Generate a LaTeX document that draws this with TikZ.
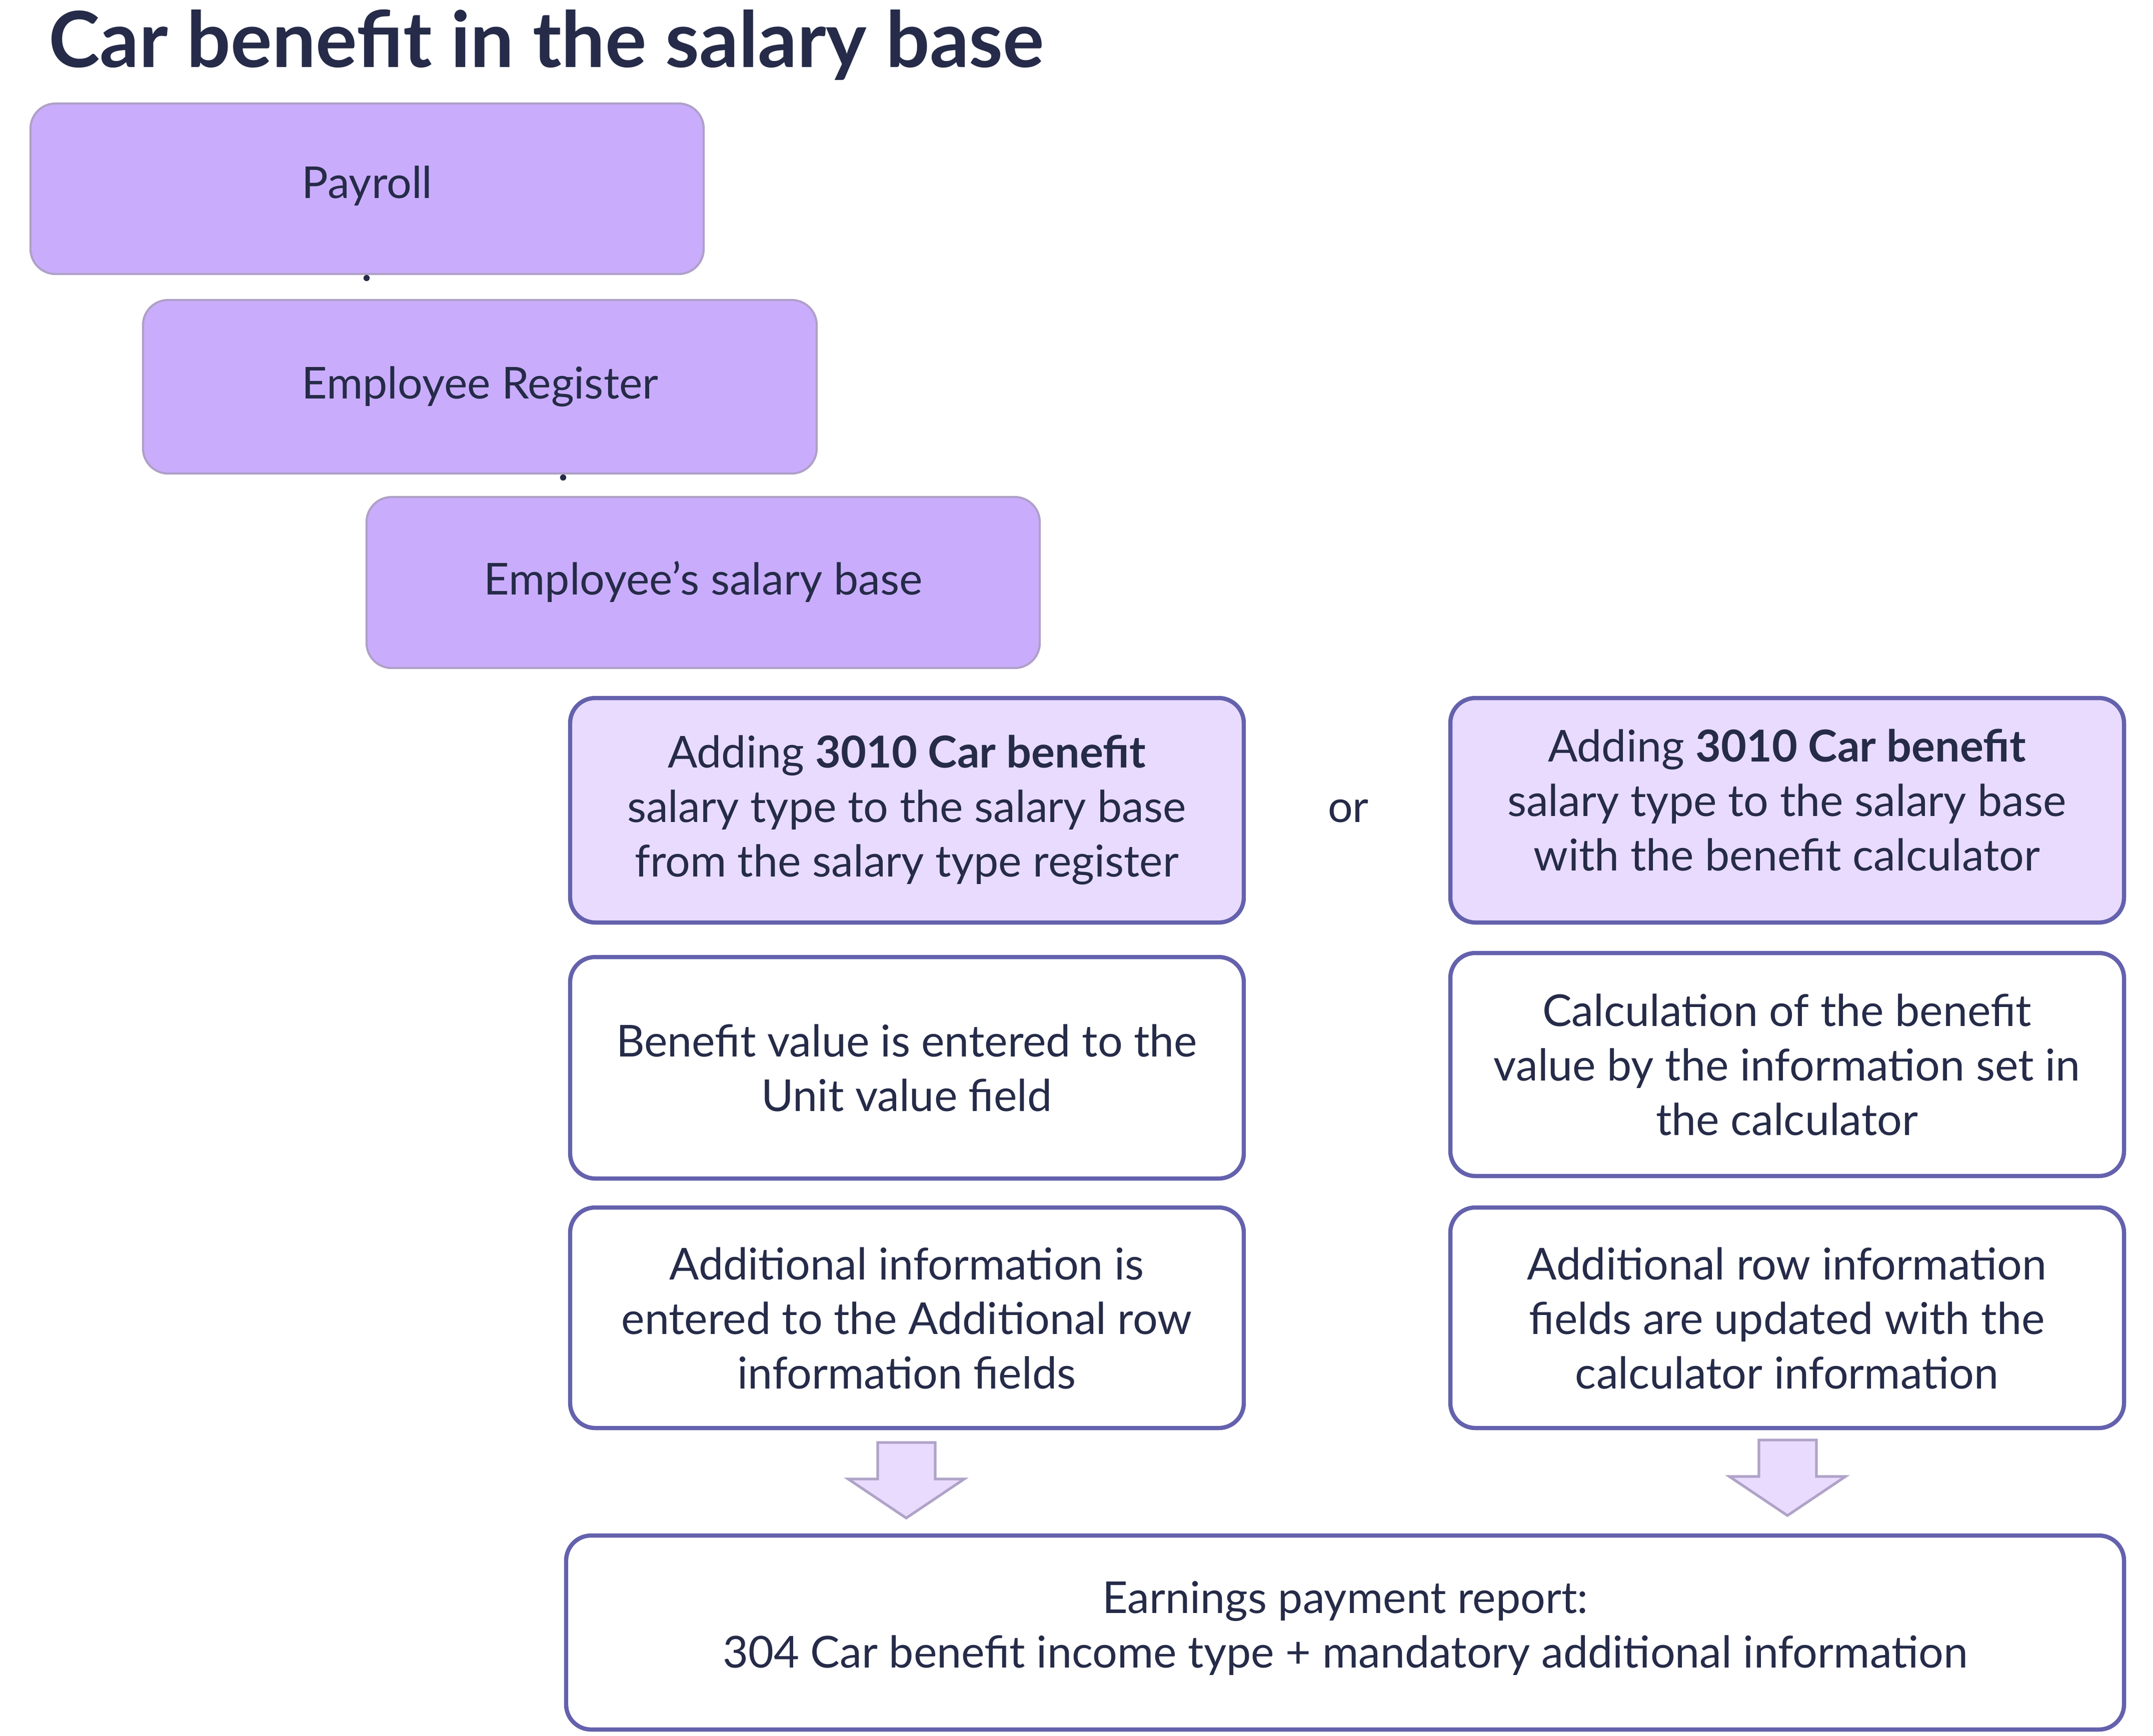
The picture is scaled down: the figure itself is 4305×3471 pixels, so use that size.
\documentclass[tikz,border=0pt]{standalone}
\usepackage{fontspec}
\setmainfont{Lato}
\begin{document}
\begin{tikzpicture}[x=0.01cm,y=-0.01cm,
  every node/.style={text=ink, font=\fontsize{25}{31}\selectfont, align=center},
  darkbox/.style={draw=dborder, line width=1.2pt, fill=dfill, rounded corners=0.5cm},
  lightbox/.style={draw=pborder, line width=2.4pt, fill=lfill, rounded corners=0.5cm},
  whitebox/.style={draw=pborder, line width=2.4pt, fill=white, rounded corners=0.5cm},
  dotline/.style={draw=ink, line width=3.5pt, line cap=round, dash pattern=on 0pt off 11pt},
  bigarrow/.style={draw=aborder, line width=1.5pt, fill=lfill, line join=miter}]
\definecolor{ink}{HTML}{252B48}
\definecolor{dfill}{HTML}{C9ADFC}
\definecolor{dborder}{HTML}{AFA0C8}
\definecolor{lfill}{HTML}{E8DBFD}
\definecolor{pborder}{HTML}{6461AD}
\definecolor{aborder}{HTML}{B0A3C8}
\useasboundingbox[fill=white] (0,0) rectangle (4305,3471);
\node[anchor=west, font=\fontsize{44}{50}\selectfont\bfseries] (title) at (85,90) {Car benefit in the salary base};
\path[darkbox] (61,207) rectangle (1407,548);
\node (pay) at (734,372) {Payroll};
\path[darkbox] (286,600) rectangle (1633,947);
\node (reg) at (960,773) {Employee Register};
\path[darkbox] (733,994) rectangle (2079,1336);
\node (sal) at (1406,1163) {Employee’s salary base};
\draw[dotline] (733,556) -- (733,594);
\draw[dotline] (1126,955) -- (1126,990);
\path[lightbox] (1140,1396) rectangle (2487,1845);
\node (l1) at (1813,1620) {Adding \textbf{3010 Car benefit}\\salary type to the salary base\\from the salary type register};
\path[lightbox] (2900,1396) rectangle (4247,1845);
\node (r1) at (3573,1600) {Adding \textbf{3010 Car benefit}\\salary type to the salary base\\with the benefit calculator};
\node (or) at (2696,1622) {or};
\path[whitebox] (1140,1914) rectangle (2487,2357);
\node (l2) at (1813,2136) {Benefit value is entered to the\\Unit value field};
\path[whitebox] (2900,1906) rectangle (4247,2352);
\node (r2) at (3573,2129) {Calculation of the benefit\\value by the information set in\\the calculator};
\path[whitebox] (1140,2415) rectangle (2487,2856);
\node (l3) at (1813,2636) {Additional information is\\entered to the Additional row\\information fields};
\path[whitebox] (2900,2415) rectangle (4247,2856);
\node (r3) at (3573,2636) {Additional row information\\fields are updated with the\\calculator information};
\path[bigarrow] (1755,2885) -- (1870,2885) -- (1870,2958) -- (1928,2958) -- (1812,3036) -- (1696,2958) -- (1755,2958) -- cycle;
\path[bigarrow] (3517,2880) -- (3632,2880) -- (3632,2953) -- (3690,2953) -- (3574,3031) -- (3458,2953) -- (3517,2953) -- cycle;
\path[whitebox] (1132,3071) rectangle (4247,3459);
\node (rep) at (2690,3256) {Earnings payment report:\\304 Car benefit income type + mandatory additional information};
\end{tikzpicture}
\end{document}
